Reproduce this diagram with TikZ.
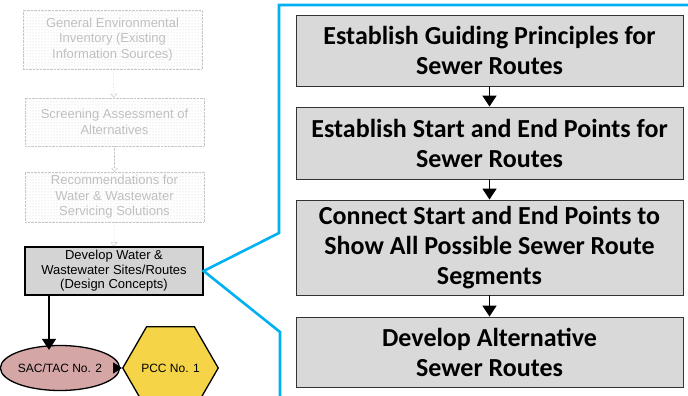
\documentclass[tikz,border=0pt]{standalone}
\usepackage{fontspec}
\setmainfont{Liberation Sans}
\newfontfamily\calibri{Carlito}
\usetikzlibrary{positioning,calc,shapes.geometric,patterns,arrows.meta}

\definecolor{callblue}{HTML}{00B0F0}
\definecolor{boxgray}{HTML}{D9D9D9}
\definecolor{devgray}{HTML}{D4D4D4}
\definecolor{rosefill}{HTML}{D5A6A6}
\definecolor{hexyellow}{HTML}{F5D547}

\tikzset{
	fadedbox/.style={draw=gray!45, densely dotted, pattern=dots, pattern color=gray!40,
		minimum width=179pt, text=gray!50, align=center, inner sep=0pt,
		font=\fontsize{13}{15.5}\selectfont},
	fadedarrow/.style={draw=gray!45, densely dotted, -{Triangle[open,length=4pt,width=7pt]}},
	devbox/.style={draw=black, line width=1.3pt, fill=devgray, minimum width=178pt,
		minimum height=48pt, align=center, inner sep=0pt, font=\fontsize{13}{14.5}\selectfont},
	stepbox/.style={draw=black!80, line width=0.9pt, fill=boxgray, minimum width=387pt,
		align=center, inner sep=0pt, font=\calibri\bfseries\fontsize{26}{30}\selectfont},
	arr/.style={line width=1.8pt, -{Triangle[length=11pt,width=14pt]}},
	callout/.style={draw=callblue, line width=2.6pt, line join=miter}
}

\begin{document}
\begin{tikzpicture}[x=1pt,y=-1pt]
	\useasboundingbox (0,0) rectangle (688,396);
	\clip (0,0) rectangle (688,396);
	\begin{scope}
		\coordinate (L1) at (112.5,39.5);
		\coordinate (L2) at (114.5,122);
		\coordinate (L3) at (114.5,197);
		\coordinate (L4) at (114,271);
		\coordinate (R1) at (489.5,50.5);
		\coordinate (R2) at (489.5,143);
		\coordinate (R3) at (489.5,247.5);
		\coordinate (R4) at (489.5,352);
		
		% left column
		\node[fadedbox, minimum height=59pt] (inventory) at (L1) {General Environmental\\Inventory (Existing\\Information Sources)};
		\node[fadedbox, minimum height=48pt] (screening) at (L2) {Screening Assessment of\\Alternatives};
		\node[fadedbox, minimum height=50pt] (recommend) at (L3) {Recommendations for\\Water \& Wastewater\\Servicing Solutions};
		\node[devbox] (develop) at (L4) {Develop Water \&\\Wastewater Sites/Routes\\(Design Concepts)};
		\node[draw=black, line width=1.3pt, fill=rosefill, ellipse, minimum width=95pt, minimum height=45pt,
			inner sep=0pt, font=\fontsize{12}{14}\selectfont] (sac) at (60,368) {SAC/TAC No. 2};
		\node[draw=black, line width=1.3pt, fill=hexyellow, regular polygon, regular polygon sides=6,
			minimum size=81pt, inner sep=0pt, font=\fontsize{12}{14}\selectfont] (pcc) at (170.5,368) {PCC No. 1};
		
		\draw[fadedarrow] (inventory) -- (screening);
		\draw[fadedarrow] (screening) -- (recommend);
		\draw[fadedarrow] (recommend) -- (develop);
		\coordinate (sactop) at ([xshift=-11pt,yshift=-5pt]sac.north);
		\draw[arr] (sactop |- develop.south) -- (sactop);
		\draw[line width=1.5pt, -{Triangle[length=9pt,width=11pt]}] (sac) -- (pcc);
		
		% callout
		\draw[callout] (700,5) -- (279,5) -- (279,233) -- (develop.east) -- (280,332) -- (280,400);
		
		% right column
		\node[stepbox, minimum height=71pt] (principles) at (R1) {Establish Guiding Principles for\\Sewer Routes};
		\node[stepbox, minimum height=72pt] (endpoints) at (R2) {Establish Start and End Points for\\Sewer Routes};
		\node[stepbox, minimum height=95pt] (segments) at (R3) {Connect Start and End Points to\\Show All Possible Sewer Route\\Segments};
		\node[stepbox, minimum height=70pt] (alternative) at (R4) {Develop Alternative\\Sewer Routes};
		%\draw[step=10pt,gray,very thin] (0,0) grid (688,396);
		
		\draw[arr] (principles) -- (endpoints);
		\draw[arr] (endpoints) -- (segments);
		\draw[arr] (segments) -- (alternative);
	\end{scope}
\end{tikzpicture}
\end{document}
